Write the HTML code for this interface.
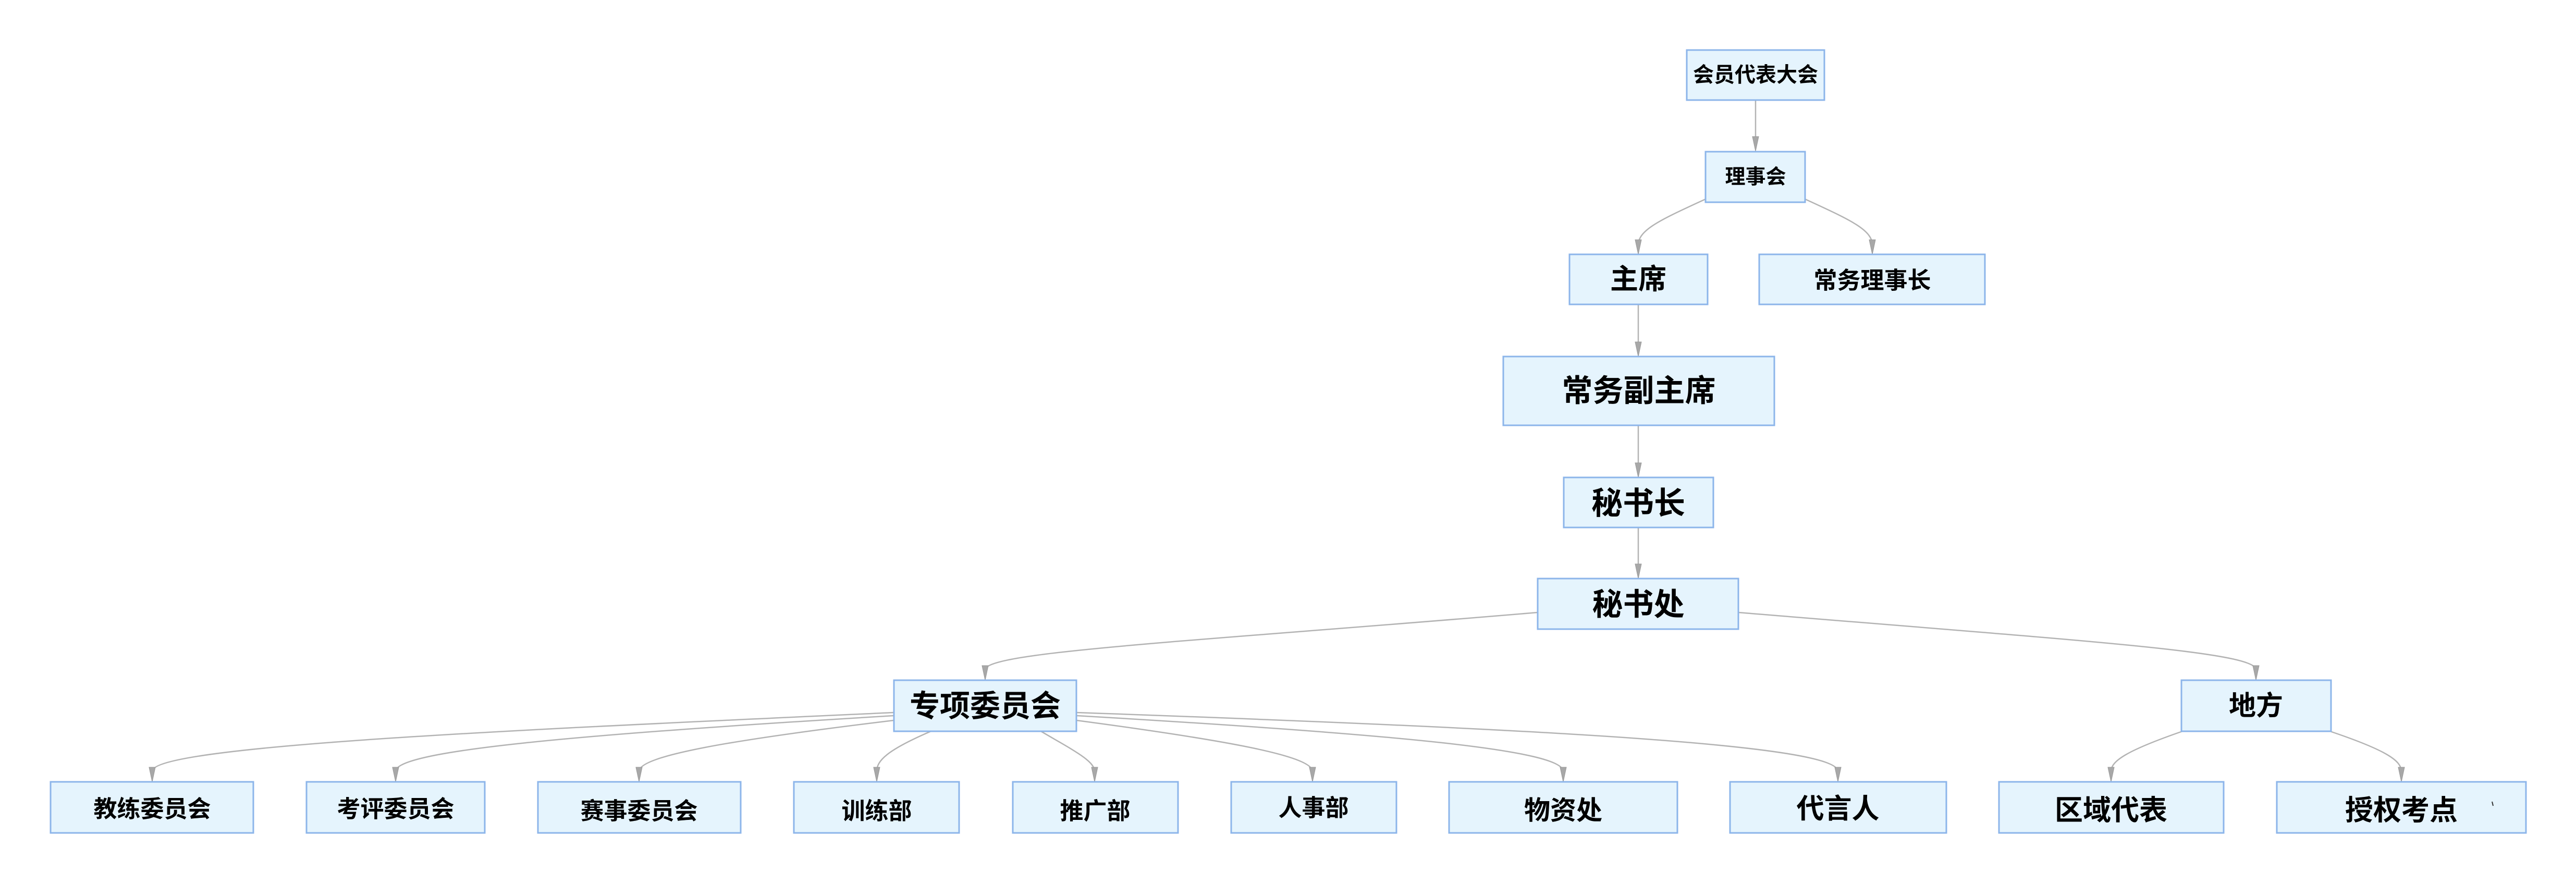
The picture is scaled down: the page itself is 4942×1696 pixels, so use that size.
<!DOCTYPE html>
<html><head><meta charset="utf-8"><style>
html,body{margin:0;padding:0;background:#fff;}
svg{display:block;}
text{font-family:"Liberation Sans","Noto Sans CJK SC",sans-serif;font-weight:bold;fill:#000;text-anchor:middle;dominant-baseline:central;}
rect{fill:#e5f4fd;stroke:#8cb5ea;stroke-width:3;}
path.e{fill:none;stroke:#b3b3b3;stroke-width:2.5;}
polygon{fill:#a8a8a8;stroke:#999;stroke-width:1;}
</style></head><body>
<svg width="4942" height="1696" viewBox="0 0 4942 1696" xmlns="http://www.w3.org/2000/svg">
<!-- edges -->
<path class="e" d="M3368 192 L3368 270"/>
<path class="e" d="M3272 382 C3190 420 3143 440 3143 470"/>
<path class="e" d="M3463 382 C3545 420 3592 440 3592 470"/>
<path class="e" d="M3143 584 L3143 664"/>
<path class="e" d="M3143 816 L3143 896"/>
<path class="e" d="M3143 1012 L3143 1090"/>
<path class="e" d="M2950 1175 C2300 1230 1890 1250 1890 1285"/>
<path class="e" d="M3335 1175 C4000 1230 4328 1250 4328 1285"/>
<path class="e" d="M1715 1367 C1000 1400 292 1430 292 1480"/>
<path class="e" d="M1715 1373 C1100 1410 759 1440 759 1480"/>
<path class="e" d="M1715 1382 C1400 1420 1226 1450 1226 1480"/>
<path class="e" d="M1786 1403 C1700 1440 1682 1460 1682 1480"/>
<path class="e" d="M1997 1403 C2060 1440 2100 1460 2100 1480"/>
<path class="e" d="M2065 1382 C2350 1420 2518 1450 2518 1480"/>
<path class="e" d="M2065 1373 C2700 1410 2999 1440 2999 1480"/>
<path class="e" d="M2065 1367 C3000 1400 3526 1430 3526 1480"/>
<path class="e" d="M4187 1403 C4080 1440 4050 1460 4050 1480"/>
<path class="e" d="M4470 1403 C4580 1440 4607 1460 4607 1480"/>
<!-- arrowheads -->
<g>
<polygon points="3362,262 3374,262 3368,290"/>
<polygon points="3137,460 3149,460 3143,488"/>
<polygon points="3586,460 3598,460 3592,488"/>
<polygon points="3137,656 3149,656 3143,684"/>
<polygon points="3137,888 3149,888 3143,916"/>
<polygon points="3137,1082 3149,1082 3143,1110"/>
<polygon points="1884,1277 1896,1277 1890,1305"/>
<polygon points="4322,1277 4334,1277 4328,1305"/>
<polygon points="286,1472 298,1472 292,1500"/>
<polygon points="753,1472 765,1472 759,1500"/>
<polygon points="1220,1472 1232,1472 1226,1500"/>
<polygon points="1676,1472 1688,1472 1682,1500"/>
<polygon points="2094,1472 2106,1472 2100,1500"/>
<polygon points="2512,1472 2524,1472 2518,1500"/>
<polygon points="2993,1472 3005,1472 2999,1500"/>
<polygon points="3520,1472 3532,1472 3526,1500"/>
<polygon points="4044,1472 4056,1472 4050,1500"/>
<polygon points="4601,1472 4613,1472 4607,1500"/>
</g>
<!-- nodes -->
<rect x="3236" y="96" width="264" height="96"/><text x="3368" y="144" font-size="40">会员代表大会</text>
<rect x="3272" y="291" width="191" height="97"/><text x="3368" y="340" font-size="39">理事会</text>
<rect x="3011" y="488" width="265" height="96"/><text x="3143" y="536" font-size="54">主席</text>
<rect x="3375" y="488" width="433" height="96"/><text x="3592" y="538" font-size="45">常务理事长</text>
<rect x="2884" y="684" width="520" height="132"/><text x="3144" y="750" font-size="59">常务副主席</text>
<rect x="3000" y="916" width="287" height="96"/><text x="3143" y="966" font-size="60">秘书长</text>
<rect x="2950" y="1110" width="385" height="97"/><text x="3143" y="1160" font-size="59">秘书处</text>
<rect x="1715" y="1305" width="350" height="98"/><text x="1890" y="1355" font-size="58">专项委员会</text>
<rect x="4185" y="1305" width="287" height="98"/><text x="4328" y="1355" font-size="52">地方</text>
<rect x="97" y="1500" width="389" height="98"/><text x="292" y="1552" font-size="45">教练委员会</text>
<rect x="588" y="1500" width="342" height="98"/><text x="759" y="1552" font-size="45">考评委员会</text>
<rect x="1032" y="1500" width="389" height="98"/><text x="1226" y="1556" font-size="45">赛事委员会</text>
<rect x="1523" y="1500" width="317" height="98"/><text x="1682" y="1556" font-size="45">训练部</text>
<rect x="1943" y="1500" width="317" height="98"/><text x="2101" y="1556" font-size="45">推广部</text>
<rect x="2362" y="1500" width="317" height="98"/><text x="2520" y="1550" font-size="45">人事部</text>
<rect x="2780" y="1500" width="438" height="98"/><text x="2999" y="1555" font-size="50">物资处</text>
<rect x="3319" y="1500" width="415" height="98"/><text x="3526" y="1552" font-size="53">代言人</text>
<rect x="3835" y="1500" width="431" height="98"/><text x="4050" y="1555" font-size="54">区域代表</text>
<rect x="4368" y="1500" width="478" height="98"/><text x="4607" y="1555" font-size="54">授权考点</text>
<line x1="4781" y1="1538" x2="4783" y2="1546" stroke="#333" stroke-width="2"/>
</svg>
</body></html>
